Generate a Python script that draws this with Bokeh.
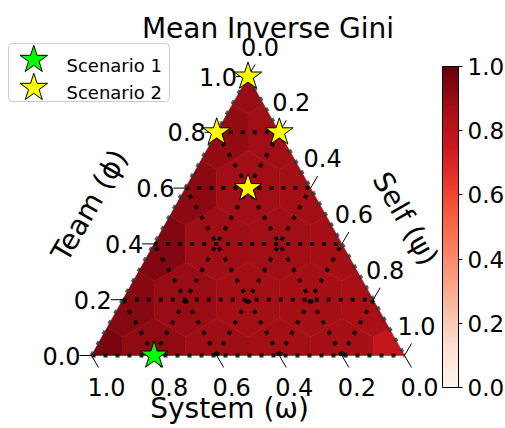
import numpy as np
from bokeh.plotting import figure
from bokeh.models import (Range1d, ColumnDataSource, LinearColorMapper, ColorBar,
                          FixedTicker, PrintfTickFormatter)
from bokeh.palettes import Reds256
from bokeh.core.properties import value
from bokeh.transform import transform
from bokeh.embed import file_html
from bokeh.resources import INLINE

# ---------------- data ----------------
SCALE = 5
# Mean inverse Gini per lattice point; one list per Team (phi) level 0.0..1.0,
# entries ordered by Self (psi) = 0.0, 0.2, ...
heat_team_00 = [0.96, 0.915, 0.885, 0.875, 0.87, 0.77]
heat_team_02 = [0.935, 0.895, 0.875, 0.87, 0.865]
heat_team_04 = [0.945, 0.885, 0.88, 0.87]
heat_team_06 = [0.925, 0.88, 0.875]
heat_team_08 = [0.91, 0.88]
heat_team_10 = [0.895]
heat_rows = [heat_team_00, heat_team_02, heat_team_04, heat_team_06, heat_team_08, heat_team_10]

tick_values = [0.0, 0.2, 0.4, 0.6, 0.8, 1.0]
tick_labels = ["0.0", "0.2", "0.4", "0.6", "0.8", "1.0"]
grid_values = [0.2, 0.4, 0.6, 0.8]
cbar_ticks = [0.0, 0.2, 0.4, 0.6, 0.8, 1.0]

scenario_names = ["Scenario 1", "Scenario 2"]
scenario_colors = ["#00ff00", "#ffff00"]
scenario1_team = [0.0]
scenario1_self = [0.2]
scenario2_team = [1.0, 0.8, 0.8, 0.6]
scenario2_self = [0.0, 0.0, 0.2, 0.2]

title_text = "Mean Inverse Gini"
label_team = "Team (ϕ)"
label_self = "Self (ψ)"
label_system = "System (ω)"

# ---------------- geometry ----------------
W, H = 505, 428
X0, SX = 91.0, 313.0   # px of x=0, px per unit
Y0, SY = 355.0, 279.0  # px (from top) of y=0, px per unit
FONT = value("DejaVu Sans")


def dx(px):
    return px / SX


def dy(px):
    return px / SY


def cx(X):
    return (X - X0) / SX


def cy(Y):
    return (Y0 - Y) / SY


def tern(psi, phi):
    return psi + phi / 2.0, phi


p = figure(width=W, height=H, x_range=Range1d(-X0 / SX, (W - X0) / SX),
           y_range=Range1d((Y0 - H) / SY, Y0 / SY), output_backend="svg",
           toolbar_location=None, min_border=0)
p.axis.visible = False
p.grid.visible = False
p.outline_line_color = None
p.background_fill_color = "white"

mapper = LinearColorMapper(palette=list(Reds256[::-1]), low=0.0, high=1.0)


# ---------------- hexagonal heatmap ----------------
def clip(poly, f):
    out = []
    n = len(poly)
    for k in range(n):
        P, Q = poly[k], poly[(k + 1) % n]
        fp, fq = f(P), f(Q)
        if fp >= -1e-12:
            out.append(P)
        if (fp >= -1e-12) != (fq >= -1e-12):
            t = fp / (fp - fq)
            out.append((P[0] + t * (Q[0] - P[0]), P[1] + t * (Q[1] - P[1])))
    return out


hex_off = [(1/3, 1/3), (2/3, -1/3), (1/3, -2/3), (-1/3, -1/3), (-2/3, 1/3), (-1/3, 2/3)]
xs, ys, vals = [], [], []
for j, row in enumerate(heat_rows):
    for i, v in enumerate(row):
        poly = [(i + da, j + db) for da, db in hex_off]
        poly = clip(poly, lambda q: q[0])
        poly = clip(poly, lambda q: q[1])
        poly = clip(poly, lambda q: SCALE - q[0] - q[1])
        px_, py_ = [], []
        for a, b in poly:
            x, y = tern(a / SCALE, b / SCALE)
            px_.append(x)
            py_.append(y)
        xs.append(px_)
        ys.append(py_)
        vals.append(v)

p.patches(xs="xs", ys="ys", source=ColumnDataSource(dict(xs=xs, ys=ys, v=vals)),
          fill_color=transform("v", mapper), line_color=transform("v", mapper),
          line_width=0.6)

# ---------------- gridlines ----------------
gx, gy = [], []
for g in grid_values:
    # constant Team
    a0, b0 = tern(0, g); a1, b1 = tern(1 - g, g)
    gx.append([a0, a1]); gy.append([b0, b1])
    # constant Self
    a0, b0 = tern(g, 0); a1, b1 = tern(g, 1 - g)
    gx.append([a0, a1]); gy.append([b0, b1])
    # constant System
    a0, b0 = tern(1 - g, 0); a1, b1 = tern(0, 1 - g)
    gx.append([a0, a1]); gy.append([b0, b1])
bx0, by0 = tern(0, 0)
bx1, by1 = tern(1, 0)
gx.append([bx0, bx1]); gy.append([by0, by1])
p.multi_line(gx, gy, line_color="black", line_alpha=0.85, line_width=4,
             line_dash="4 8", line_cap="butt")

# boundary
tx_, ty_ = tern(0, 1)
p.multi_line([[bx0, tx_], [tx_, bx1]], [[by0, ty_], [ty_, by1]],
             line_color="#333333", line_alpha=0.8, line_width=4,
             line_dash="4 8", line_cap="butt")

# ---------------- axis ticks & labels ----------------
tk_x, tk_y = [], []
lab = dict(x=[], y=[], t=[])
for v, t in zip(tick_values, tick_labels):
    # Team (left)
    x, y = tern(0, v)
    tk_x.append([x, x - dx(12)]); tk_y.append([y, y])
    lab["x"].append(x - dx(30)); lab["y"].append(y); lab["t"].append(t)
    # Self (right)
    x, y = tern(v, 1 - v)
    tk_x.append([x, x + dx(7)]); tk_y.append([y, y + dy(12)])
    lab["x"].append(x + dx(12)); lab["y"].append(y + dy(30)); lab["t"].append(t)
    # System (bottom)
    x, y = tern(1 - v, 0)
    tk_x.append([x, x + dx(7)]); tk_y.append([y, y - dy(12)])
    lab["x"].append(x + dx(15)); lab["y"].append(y - dy(31)); lab["t"].append(t)
p.multi_line(tk_x, tk_y, line_color="black", line_width=1)
p.text(x="x", y="y", text="t", source=ColumnDataSource(lab), text_font=FONT,
       text_font_size="24px", text_align="center", text_baseline="middle",
       text_color="black")

# axis titles
p.text(x=[cx(89), cx(405), cx(229)], y=[cy(205), cy(218), cy(408)],
       text=[label_team, label_self, label_system],
       angle=[np.pi / 3, -np.pi / 3, 0.0], text_font=FONT, text_font_size="28px",
       text_align="center", text_baseline="middle", text_color="black")

# title
p.text(x=[cx(267.5)], y=[cy(27.5)], text=[title_text], text_font=FONT,
       text_font_size="28px", text_align="center", text_baseline="alphabetic",
       text_color="black")

# ---------------- scenario stars ----------------
s1x = [tern(s, t)[0] for s, t in zip(scenario1_self, scenario1_team)]
s1y = [tern(s, t)[1] for s, t in zip(scenario1_self, scenario1_team)]
s2x = [tern(s, t)[0] for s, t in zip(scenario2_self, scenario2_team)]
s2y = [tern(s, t)[1] for s, t in zip(scenario2_self, scenario2_team)]
p.scatter(s1x, s1y, marker="star", size=29, fill_color=scenario_colors[0],
          line_color="black", line_width=1)
p.scatter(s2x, s2y, marker="star", size=29, fill_color=scenario_colors[1],
          line_color="black", line_width=1)

# ---------------- legend (drawn) ----------------
p.quad(left=[cx(8)], right=[cx(169)], top=[cy(43)], bottom=[cy(101)],
       fill_color="white", fill_alpha=0.8, line_color="#cccccc", line_width=1,
       border_radius=4)
p.scatter([cx(33.3), cx(33.3)], [cy(59.3), cy(87.3)], marker="star", size=29,
          fill_color=scenario_colors, line_color="black", line_width=1)
p.text(x=[cx(66), cx(66)], y=[cy(65), cy(92)], text=scenario_names, text_font=FONT,
       text_font_size="18px", text_align="left", text_baseline="alphabetic",
       text_color="black")

# ---------------- colorbar ----------------
cbar = ColorBar(color_mapper=mapper, location=(442, H - 387), width=16, height=321,
                padding=0, margin=0, ticker=FixedTicker(ticks=cbar_ticks),
                formatter=PrintfTickFormatter(format="%.1f"),
                major_label_text_font_size="23px", major_label_text_font="DejaVu Sans",
                major_label_text_color="black",
                major_tick_in=0, major_tick_out=4, major_tick_line_color="black",
                bar_line_color="black", border_line_color=None,
                background_fill_alpha=0, label_standoff=5)
p.add_layout(cbar, "center")

open("out.html", "w").write(file_html(p, INLINE))
